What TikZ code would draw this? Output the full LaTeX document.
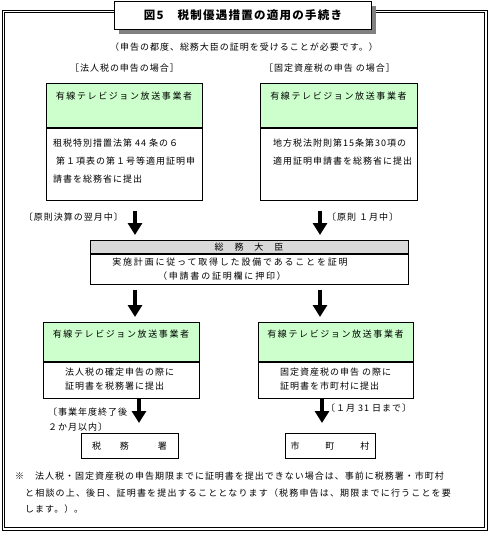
\documentclass[tikz,border=0pt]{standalone}
\usepackage{fontspec}
\setmainfont{Noto Sans CJK JP}[LetterSpace=11]
\usetikzlibrary{arrows.meta}
\definecolor{boxgreen}{RGB}{204,255,204}
\definecolor{boxgray}{RGB}{217,217,217}
\definecolor{shadowgray}{RGB}{128,128,128}

\begin{document}
\begin{tikzpicture}[x=1pt, y=-1pt,
  every node/.style={inner sep=0pt, font=\fontsize{9}{11}\selectfont},
  box/.style={draw, line width=0.8pt, fill=white},
  headbox/.style={box, fill=boxgreen, anchor=north, text height=16pt, text depth=28pt},
  bodybox/.style={box, anchor=north},
  endbox/.style={box, anchor=north, minimum height=25pt},
  flow/.style={line width=3.3pt, -{Triangle[width=14pt,length=12pt]}}]

\useasboundingbox (0,0) rectangle (490,533);

% frame and title
\draw[line width=0.8pt] (2,10) rectangle (487,530);
\draw[line width=0.8pt] (4.8,12.8) rectangle (484.2,527.2);
\fill[shadowgray] (119,6) rectangle (376,34);
\node[box, line width=1pt, minimum width=257pt, minimum height=28pt, anchor=north west] (title) at (114,1)
  {\fontsize{11.5}{13}\bfseries 図5　税制優遇措置の適用の手続き};

\node[anchor=base] (note0) at (244,50.5) {（申告の都度、総務大臣の証明を受けることが必要です。）};
\node[anchor=base] (caseL) at (124.5,71.5) {［法人税の申告の場合］};
\node[anchor=base] (caseR) at (329.5,71.5) {［固定資産税の申告 の場合］};

% applicants
\node[headbox, minimum width=156pt] (lhead) at (124,83) {\addfontfeatures{LetterSpace=18}有線テレビジョン放送事業者};
\node[bodybox, minimum width=156pt, minimum height=72pt] (lbody) at (lhead.south) {};
\node[headbox, minimum width=157pt] (rhead) at (338.5,83) {\addfontfeatures{LetterSpace=18}有線テレビジョン放送事業者};
\node[bodybox, minimum width=157pt, minimum height=72pt] (rbody) at (rhead.south) {};

\foreach \t [count=\i] in {租税特別措置法第 44 条の６, \hspace{3pt}第１項表の第１号等適用証明申, 請書を総務省に提出}
  \node[anchor=base west] (ltxt\i) at (53,128+18*\i) {\t};
\foreach \t [count=\i] in {地方税法附則第15条第30項の, 適用証明申請書を総務省に提出}
  \node[anchor=base west] (rtxt\i) at (273,128+18*\i) {\t};

% minister
\node[box, fill=boxgray, anchor=north, minimum width=318pt, text height=10.5pt, text depth=2.5pt] (mhead) at (249,240) {総　務　大　臣};
\node[bodybox, minimum width=318pt, minimum height=30pt] (mbody) at (mhead.south) {};
\node[anchor=base] (mtxt1) at (230,265.5) {\addfontfeatures{LetterSpace=20}実施計画に従って取得した設備であることを証明};
\node[anchor=base] (mtxt2) at (222,279.5) {\addfontfeatures{LetterSpace=20}（申請書の証明欄に押印）};

\draw[flow, shorten <=10pt, shorten >=5pt] (lbody.south -| 135,0) -- (mhead.north -| 135,0);
\draw[flow, shorten <=10pt, shorten >=5pt] (rbody.south -| 320,0) -- (mhead.north -| 320,0);
\node[anchor=base east] (whenL) at (123,220.5) {〔原則決算の翌月中〕};
\node[anchor=base west] (whenR) at (327,220.5) {〔原則 １月中〕};

% submitting the certificate
\node[headbox, minimum width=156pt, text height=15.5pt, text depth=23.5pt] (llhead) at (121,322) {\addfontfeatures{LetterSpace=18}有線テレビジョン放送事業者};
\node[bodybox, minimum width=156pt, minimum height=36pt] (llbody) at (llhead.south) {};
\node[headbox, minimum width=155pt, text height=15.5pt, text depth=23.5pt] (lrhead) at (335.5,322) {\addfontfeatures{LetterSpace=18}有線テレビジョン放送事業者};
\node[bodybox, minimum width=155pt, minimum height=36pt] (lrbody) at (lrhead.south) {};

\foreach \t [count=\i] in {法人税の確定申告の際に, 証明書を税務署に提出}
  \node[anchor=base west] (lltxt\i) at (65,361.5+14*\i) {\t};
\foreach \t [count=\i] in {固定資産税の申告 の際に, 証明書を市町村に提出}
  \node[anchor=base west] (lrtxt\i) at (280,361.5+14*\i) {\t};

\draw[flow, shorten <=5pt, shorten >=5pt] (mbody.south -| 135,0) -- (llhead.north -| 135,0);
\draw[flow, shorten <=5pt, shorten >=5pt] (mbody.south -| 320,0) -- (lrhead.north -| 320,0);

\node[endbox, minimum width=97pt] (taxoffice) at (129.5,433) {税\hspace{19pt}務\hspace{29pt}署};
\node[endbox, minimum width=90pt] (city) at (330,433) {市\hspace{26pt}町\hspace{26pt}村};

\draw[flow, shorten >=10pt] (llbody.south -| 139,0) -- (taxoffice.north -| 139,0);
\draw[flow, shorten >=10pt] (lrbody.south -| 322,0) -- (city.north -| 322,0);
\node[anchor=base west] (dueL1) at (48,415.5) {〔事業年度終了後};
\node[anchor=base west] (dueL2) at (48,430.5) {２か月以内〕};
\node[anchor=base west] (dueR) at (326,411.5) {〔１月 31 日まで〕};

% note
\node[anchor=base west] (foot1) at (15,479.5) {※　法人税・固定資産税の申告期限までに証明書を提出できない場合は、事前に税務署・市町村};
\node[anchor=base west] (foot2) at (25,496.5) {\addfontfeatures{LetterSpace=13}と相談の上、後日、証明書を提出することとなります（税務申告は、期限までに行うことを要};
\node[anchor=base west] (foot3) at (25,512.5) {します。）。};

\end{tikzpicture}
\end{document}
